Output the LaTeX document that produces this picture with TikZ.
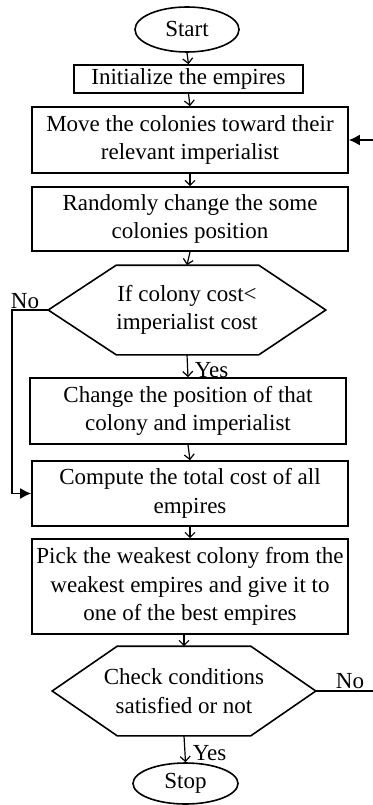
\documentclass[tikz,border=0pt]{standalone}
\usepackage{fontspec}
\setmainfont{Liberation Serif}
\usetikzlibrary{shapes.geometric,arrows.meta}
\begin{document}
\begin{tikzpicture}[x=1pt,y=-1pt,line width=1.6pt,
  every node/.style={font=\fontsize{23}{28.5}\selectfont,inner sep=0pt,align=center},
  procbox/.style={draw,rectangle,minimum width=316pt},
  term/.style={draw,ellipse},
  flow/.style={-{Straight Barb[length=5pt,width=10pt,line width=1.2pt]},line width=1.2pt},
  back/.style={-{Latex[length=11pt,width=11pt]},line width=1.6pt},
  lab/.style={font=\fontsize{23}{26}\selectfont}]
\useasboundingbox (0,0) rectangle (372,805);
\node[term,minimum width=104pt,minimum height=45pt] (start) at (187,29.5) {Start};
\node[procbox,minimum width=229pt,minimum height=28pt] (init) at (188.5,79) {Initialize the empires};
\node[procbox,minimum height=66pt] (move) at (190,140) {Move the colonies toward their\\relevant imperialist};
\node[procbox,minimum height=64pt] (rand) at (190,219) {Randomly change the some\\colonies position};
\node[minimum width=276pt,minimum height=88pt] (d1) at (187,310) {If colony cost\textless\\imperialist cost};
\draw (d1.west) -- ([xshift=68pt]d1.north west) -- ([xshift=-67pt]d1.north east) -- (d1.east) -- ([xshift=-67pt]d1.south east) -- ([xshift=68pt]d1.south west) -- cycle;
\node[procbox,minimum height=66pt] (change) at (188,411) {Change the position of that\\colony and imperialist};
\node[procbox,minimum height=65pt] (comp) at (190,493.5) {Compute the total cost of all\\empires};
\node[procbox,minimum height=95pt] (pick) at (190,586.5) {Pick the weakest colony from the\\weakest empires and give it to\\one of the best empires};
\node[minimum width=262pt,minimum height=88pt] (d2) at (184,691) {Check conditions\\satisfied or not};
\draw (d2.west) -- ([xshift=65pt]d2.north west) -- ([xshift=-65pt]d2.north east) -- (d2.east) -- ([xshift=-65pt]d2.south east) -- ([xshift=65pt]d2.south west) -- cycle;
\node[term,minimum width=105pt,minimum height=41pt] (stop) at (185.5,783.5) {Stop};
% flow arrows
\draw[flow] (start.south) -- (init.north);
\draw[flow] (init.south) -- (move.north);
\draw[flow] (move.south) -- (rand.north);
\draw[flow] (rand.south) -- (d1.north);
\draw[flow] (d1.south) -- (change.north);
\draw[flow] (change.south) -- (comp.north);
\draw[flow] (comp.south) -- (pick.north);
\draw[flow] ([xshift=-6pt]pick.south) -- ([xshift=-6pt]pick.south |- d2.north);
\draw[flow] (d2.south) -- (stop.north);
% feedback
\coordinate (l1) at (12,310);
\coordinate (r1) at (375,691);
\draw[back] (d1.west) -- (l1) |- (comp.west);
\draw[back] (d2.east) -- (r1) |- (move.east);
% labels
\node[lab,anchor=south] (no1) at (25,310) {No};
\node[lab,anchor=west] (yes1) at (194,370) {Yes};
\node[lab,anchor=south] (no2) at (350,690) {No};
\node[lab,anchor=west] (yes2) at (192,753) {Yes};
\end{tikzpicture}
\end{document}
